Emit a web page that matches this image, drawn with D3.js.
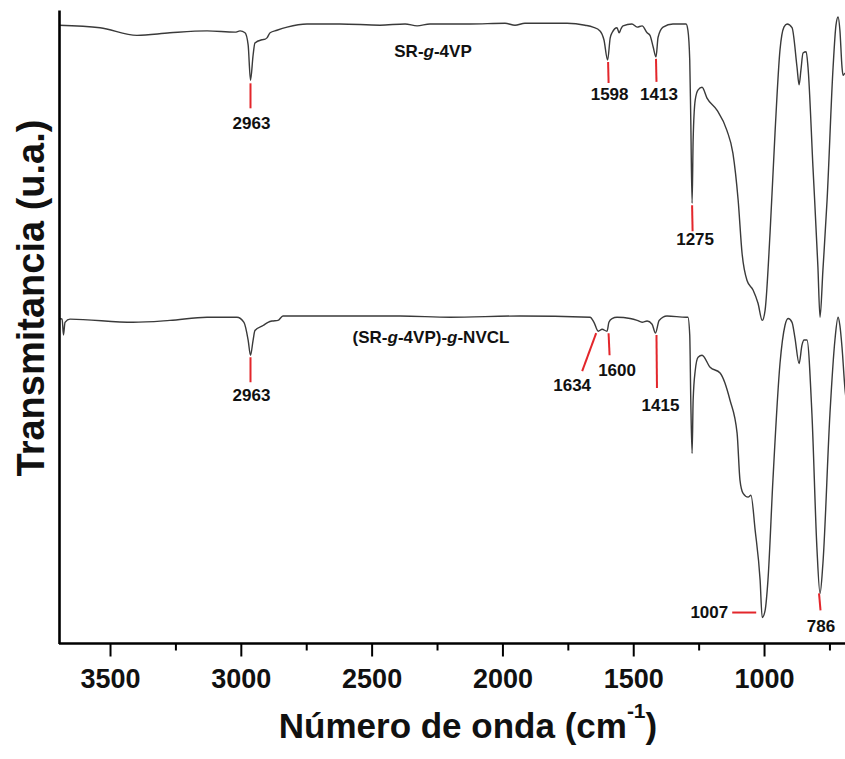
<!DOCTYPE html>
<html>
<head>
<meta charset="utf-8">
<script src="https://cdn.jsdelivr.net/npm/d3@7"></script>
<style>
  body { margin: 0; background: #fff; }
  svg { display: block; font-family: "Liberation Sans", Arial, sans-serif; }
</style>
</head>
<body>
<svg id="chart" width="845" height="759"></svg>
<script>
// ---- FTIR spectra (wavenumber in cm-1, transmittance in arbitrary units) ----
const srWave = [3695, 3538, 3397, 3271, 3129, 3022, 3003, 2984, 2972, 2963, 2953, 2946, 2919, 2907, 2900,
  2888, 2862, 2823, 2747, 2621, 2468, 2372, 2326, 2277, 2124, 1990, 1952, 1914, 1753, 1684,
  1654, 1627, 1612, 1598, 1588, 1581, 1562, 1554, 1547, 1539, 1505, 1485, 1466, 1447, 1436,
  1424, 1413, 1405, 1386, 1348, 1310, 1298, 1291, 1284, 1280, 1275, 1271, 1263, 1252, 1237,
  1218, 1180, 1142, 1119, 1099, 1084, 1065, 1042, 1023, 1007, 996, 977, 958, 939, 924,
  912, 893, 874, 866, 859, 851, 839, 832, 813, 794, 786, 775, 759, 736, 725,
  717, 710, 702, 698, 691, 652];
const srTrans = [97.6, 97.2, 96.0, 96.4, 96.7, 96.5, 96.7, 96.4, 94.5, 88.9, 92.9, 94.8, 95.3, 95.4, 95.6,
  96.4, 96.8, 97.3, 97.8, 97.8, 97.6, 97.8, 97.5, 97.8, 97.8, 97.9, 97.6, 97.9, 97.9, 97.6,
  97.3, 96.7, 95.3, 92.1, 95.6, 96.4, 97.2, 96.4, 97.0, 97.5, 97.8, 97.3, 97.5, 96.4, 96.0,
  94.2, 92.6, 95.7, 97.3, 97.8, 97.8, 97.8, 96.8, 92.1, 82.6, 69.5, 79.5, 85.8, 87.4, 87.8,
  86.1, 84.2, 81.0, 77.4, 70.0, 61.6, 57.3, 55.8, 53.7, 51.0, 52.6, 64.8, 80.6, 93.7, 97.3,
  97.8, 97.2, 91.0, 88.2, 90.5, 93.2, 93.4, 91.0, 75.2, 59.4, 51.5, 58.9, 70.0, 91.0, 97.6,
  98.9, 96.8, 91.0, 89.7, 90.0, 90.2];

const nvclWave = [3695, 3683, 3678, 3672, 3653, 3412, 3271, 3129, 3015, 2988, 2972, 2963, 2953, 2946, 2915,
  2896, 2881, 2858, 2839, 2621, 2391, 2200, 1933, 1665, 1650, 1634, 1619, 1600, 1593, 1581,
  1562, 1512, 1485, 1466, 1447, 1428, 1415, 1401, 1371, 1298, 1291, 1284, 1280, 1275, 1271,
  1263, 1252, 1237, 1206, 1168, 1130, 1103, 1092, 1080, 1061, 1050, 1034, 1015, 1007, 996,
  985, 966, 939, 920, 908, 893, 882, 866, 855, 847, 836, 817, 798, 786, 775,
  748, 729, 717, 710, 702, 691, 672, 652];
const nvclTrans = [51.3, 51.2, 48.7, 50.7, 51.2, 50.7, 51.0, 51.5, 51.5, 50.7, 47.9, 45.5, 47.9, 49.4, 50.2,
  50.7, 50.9, 51.0, 51.7, 51.7, 51.7, 51.5, 51.7, 51.5, 50.7, 49.3, 49.6, 49.3, 50.7, 51.3,
  51.5, 51.3, 51.0, 50.7, 50.9, 50.4, 49.0, 51.0, 51.7, 51.5, 51.5, 48.7, 38.4, 30.0, 38.4,
  43.1, 45.2, 45.5, 43.6, 42.7, 38.4, 33.2, 25.8, 23.7, 23.1, 23.4, 17.9, 10.0, 4.1, 5.2,
  10.0, 25.8, 44.2, 50.2, 51.3, 50.7, 48.3, 44.2, 47.1, 47.9, 47.9, 36.3, 15.2, 7.9, 12.6,
  36.3, 47.9, 51.5, 50.2, 46.8, 40.4, 35.2, 32.1];

// ---- labelled bands ----
const srPeaks = [2963, 1598, 1413, 1275];
const nvclPeaks = [2963, 1634, 1600, 1415, 1007, 786];

// ---- axis ticks ----
const majorTicks = [3500, 3000, 2500, 2000, 1500, 1000];
const minorTicks = [3250, 2750, 2250, 1750, 1250, 750];

const seriesNames = ["SR-g-4VP", "(SR-g-4VP)-g-NVCL"];

// ---------------------------------------------------------------
const svg = d3.select("#chart");
const W = 845;
const x = d3.scaleLinear().domain([3695, 650]).range([59, 855.6]);
const y = d3.scaleLinear().domain([0, 100]).range([643.5, 10]);

const zip = (a, b) => a.map((v, i) => [v, b[i]]);
const series = [
  { key: "sr", pts: zip(srWave, srTrans), peaks: srPeaks },
  { key: "nvcl", pts: zip(nvclWave, nvclTrans), peaks: nvclPeaks }
];

svg.append("defs").append("clipPath").attr("id", "plotClip")
  .append("rect").attr("x", 59).attr("y", 0).attr("width", W - 59).attr("height", 644);

const line = d3.line()
  .x(d => x(d[0]))
  .y(d => y(d[1]))
  .curve(d3.curveMonotoneX);

svg.append("g").attr("clip-path", "url(#plotClip)")
  .selectAll("path.spec").data(series).join("path")
  .attr("class", "spec")
  .attr("d", d => line(d.pts))
  .attr("fill", "none")
  .attr("stroke", "#3a3a3a")
  .attr("stroke-width", 1.4)
  .attr("stroke-linejoin", "round");

// annotation placement relative to each band minimum: leader line and label offsets
const annotLayout = {
  "sr-2963":   { l: [[0, 3], [0, 28]],   t: [1, 49],  a: "middle" },
  "sr-1598":   { l: [[0.5, 2], [1, 23]], t: [2, 40],  a: "middle" },
  "sr-1413":   { l: [[0, 2], [0.5, 25]], t: [3, 43],  a: "middle" },
  "sr-1275":   { l: [[0, 2], [0.5, 28]], t: [3, 42],  a: "middle" },
  "nvcl-2963": { l: [[0, 2], [0, 27]],   t: [1, 46],  a: "middle" },
  "nvcl-1634": { l: [[-2, 2], [-16, 40]], t: [-26, 60], a: "middle" },
  "nvcl-1600": { l: [[1.5, 2], [2.5, 24]], t: [10, 45], a: "middle" },
  "nvcl-1415": { l: [[1, 2], [1.5, 55]], t: [5, 78],  a: "middle" },
  "nvcl-1007": { l: [[-30, -5], [-6, -5]], t: [-34, 0], a: "end" },
  "nvcl-786":  { l: [[-1, 0], [0.5, 17]], t: [1, 39],  a: "middle" }
};

const annG = svg.append("g");
series.forEach(s => {
  s.peaks.forEach(p => {
    const idx = s.pts.findIndex(d => d[0] === p);
    const px = x(p), py = y(s.pts[idx][1]);
    const lay = annotLayout[s.key + "-" + p];
    annG.append("line")
      .attr("x1", px + lay.l[0][0]).attr("y1", py + lay.l[0][1])
      .attr("x2", px + lay.l[1][0]).attr("y2", py + lay.l[1][1])
      .attr("stroke", "#e3262b").attr("stroke-width", 2);
    annG.append("text")
      .attr("x", px + lay.t[0]).attr("y", py + lay.t[1])
      .attr("text-anchor", lay.a)
      .attr("font-size", 17).attr("font-weight", "bold").attr("fill", "#111")
      .text(p);
  });
});

// series names with italic "g"
function seriesLabel(name, cx, by) {
  const t = svg.append("text").attr("x", cx).attr("y", by)
    .attr("text-anchor", "middle").attr("font-size", 17).attr("font-weight", "bold").attr("fill", "#111");
  name.split(/(g)/).forEach(part => {
    if (!part) return;
    t.append("tspan").attr("font-style", part === "g" ? "italic" : "normal").text(part);
  });
}
seriesLabel(seriesNames[0], 433, 57);
seriesLabel(seriesNames[1], 431, 343);

// axes
const xAxis = d3.axisBottom(x).tickValues(majorTicks).tickSize(13).tickSizeOuter(0).tickPadding(12)
  .tickFormat(d3.format("d"));
const gx = svg.append("g").attr("transform", "translate(0,643.5)").call(xAxis);
gx.select(".domain").attr("d", `M59,0H${W}`).attr("stroke", "#000").attr("stroke-width", 2.6);
gx.selectAll(".tick line").attr("stroke", "#000").attr("stroke-width", 2);
gx.selectAll(".tick text").attr("font-size", 27).attr("font-weight", "bold")
  .attr("font-family", "'Liberation Sans', Arial, sans-serif").attr("fill", "#111");

const xMinor = d3.axisBottom(x).tickValues(minorTicks).tickSize(7).tickSizeOuter(0).tickFormat("");
const gm = svg.append("g").attr("transform", "translate(0,643.5)").call(xMinor);
gm.select(".domain").remove();
gm.selectAll(".tick line").attr("stroke", "#000").attr("stroke-width", 2);

const yAxis = d3.axisLeft(y).tickValues([]).tickSizeOuter(0);
const gy = svg.append("g").attr("transform", "translate(59,0)").call(yAxis);
gy.select(".domain").attr("stroke", "#000").attr("stroke-width", 2.6);

// axis titles
const xt = svg.append("text").attr("x", 468).attr("y", 738).attr("text-anchor", "middle")
  .attr("font-size", 35).attr("font-weight", "bold").attr("fill", "#111");
xt.append("tspan").text("Número de onda (cm");
xt.append("tspan").attr("font-size", 21).attr("dy", -20).text("-1");
xt.append("tspan").attr("dy", 20).text(")");

svg.append("text")
  .attr("transform", "translate(44,298) rotate(-90)")
  .attr("text-anchor", "middle")
  .attr("font-size", 38).attr("font-weight", "bold").attr("fill", "#111")
  .text("Transmitancia (u.a.)");
</script>
</body>
</html>
